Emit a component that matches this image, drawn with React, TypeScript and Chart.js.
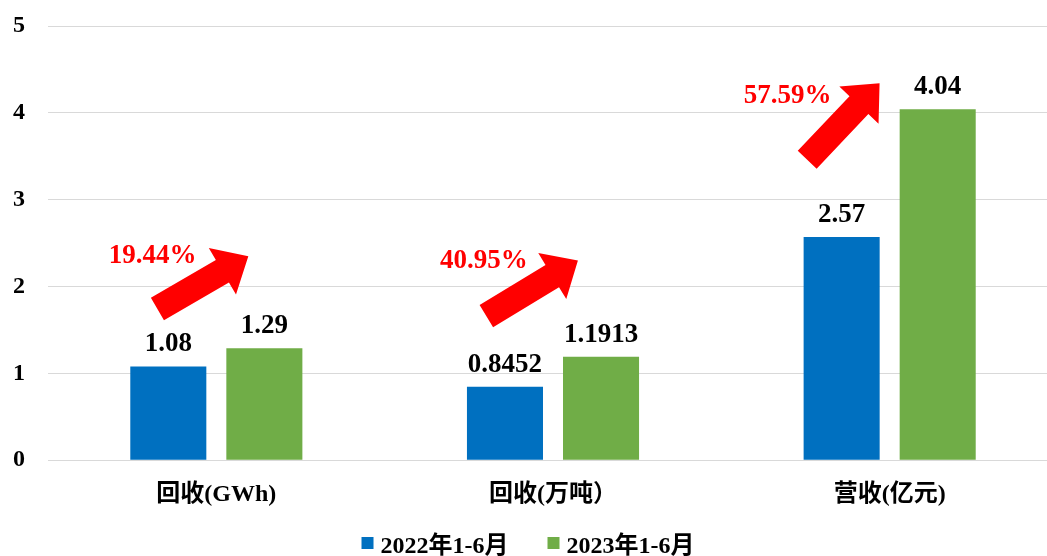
import React, { useEffect, useRef } from 'react';
import { Chart, registerables } from 'chart.js';

Chart.register(...registerables);

const categories = ['回收(GWh)', '回收(万吨）', '营收(亿元)'];
const seriesNames = ['2022年1-6月', '2023年1-6月'];
const series2022 = [1.08, 0.8452, 2.57];
const series2023 = [1.29, 1.1913, 4.04];
const seriesColors = ['#0070C0', '#70AD47'];
const yTicks = [0, 1, 2, 3, 4, 5];
const growthLabels = ['19.44%', '40.95%', '57.59%'];
// annotation anchors: [category offset (fraction of category width), value]
const arrowTail = [[-0.175, 1.74], [-0.198, 1.66], [-0.245, 3.46]];
const arrowTip = [[0.095, 2.35], [0.074, 2.3], [-0.03, 4.34]];
const growthLabelPos = [[-0.189, 2.267], [-0.205, 2.21], [-0.303, 4.108]];

const FONT = "'Liberation Serif', 'Times New Roman', 'Noto Sans CJK SC', serif";
const X_PAD = 20;
const Y_PAD = 23;

const fitX = (scale: any) => {
  scale.paddingLeft = 0;
  scale.paddingRight = 0;
  scale.paddingTop = 0;
  scale.paddingBottom = 0;
  scale.height -= X_PAD;
};
const fitY = (scale: any) => {
  scale.paddingLeft = 0;
  scale.paddingRight = 0;
  scale.paddingTop = 0;
  scale.paddingBottom = 0;
  scale.width -= Y_PAD;
};

const annotPlugin = {
  id: 'annot',
  afterDatasetsDraw(chart: any) {
    const { ctx, scales } = chart;
    const x = scales.x;
    const y = scales.y;
    const catW = x.getPixelForValue(1) - x.getPixelForValue(0);
    ctx.save();
    ctx.font = `bold 27px ${FONT}`;
    ctx.fillStyle = '#000';
    ctx.textAlign = 'center';
    ctx.textBaseline = 'alphabetic';
    chart.data.datasets.forEach((ds: any, di: number) => {
      const meta = chart.getDatasetMeta(di);
      meta.data.forEach((bar: any, i: number) => {
        ctx.fillText(String(ds.data[i]), bar.x, bar.y - 15);
      });
    });
    ctx.fillStyle = '#FF0000';
    for (let i = 0; i < growthLabels.length; i++) {
      const cx = x.getPixelForValue(i);
      const tx = cx + arrowTail[i][0] * catW;
      const ty = y.getPixelForValue(arrowTail[i][1]);
      const hx = cx + arrowTip[i][0] * catW;
      const hy = y.getPixelForValue(arrowTip[i][1]);
      const dx = hx - tx;
      const dy = hy - ty;
      const len = Math.hypot(dx, dy);
      const ux = dx / len;
      const uy = dy / len;
      const nx = -uy;
      const ny = ux;
      const sw = 13;
      const hw = 27;
      const hl = 30;
      const bx = hx - ux * hl;
      const by = hy - uy * hl;
      ctx.beginPath();
      ctx.moveTo(tx + nx * sw, ty + ny * sw);
      ctx.lineTo(bx + nx * sw, by + ny * sw);
      ctx.lineTo(bx + nx * hw, by + ny * hw);
      ctx.lineTo(hx, hy);
      ctx.lineTo(bx - nx * hw, by - ny * hw);
      ctx.lineTo(bx - nx * sw, by - ny * sw);
      ctx.lineTo(tx - nx * sw, ty - ny * sw);
      ctx.closePath();
      ctx.fill();
      ctx.font = `bold 27px ${FONT}`;
      ctx.textAlign = 'center';
      ctx.textBaseline = 'alphabetic';
      ctx.fillText(
        growthLabels[i],
        cx + growthLabelPos[i][0] * catW,
        y.getPixelForValue(growthLabelPos[i][1])
      );
    }
    ctx.restore();
  },
  afterDraw(chart: any) {
    const { ctx } = chart;
    ctx.save();
    ctx.font = `bold 24px ${FONT}`;
    ctx.textBaseline = 'alphabetic';
    ctx.textAlign = 'left';
    const box = 12;
    const gapBT = 7;
    const gapItems = 39;
    const items = chart.data.datasets.map((ds: any) => ({
      label: ds.label,
      color: ds.backgroundColor,
      w: ctx.measureText(ds.label).width,
    }));
    let total = 0;
    items.forEach((it: any, i: number) => {
      total += box + gapBT + it.w + (i < items.length - 1 ? gapItems : 0);
    });
    let cur = chart.width / 2 - 1 - total / 2;
    const boxTop = 537;
    const baseline = 553;
    items.forEach((it: any) => {
      ctx.fillStyle = it.color;
      ctx.fillRect(cur, boxTop, box, box);
      ctx.fillStyle = '#000';
      ctx.fillText(it.label, cur + box + gapBT, baseline);
      cur += box + gapBT + it.w + gapItems;
    });
    ctx.restore();
  },
};

export default function App() {
  const ref = useRef<HTMLCanvasElement>(null);
  useEffect(() => {
    if (!ref.current) return;
    const chart = new Chart(ref.current, {
      type: 'bar',
      data: {
        labels: categories,
        datasets: [
          { label: seriesNames[0], data: series2022, backgroundColor: seriesColors[0] },
          { label: seriesNames[1], data: series2023, backgroundColor: seriesColors[1] },
        ],
      },
      options: {
        responsive: false,
        animation: false,
        layout: { padding: { top: 26, left: 13, right: 0, bottom: 47 } },
        datasets: {
          bar: { categoryPercentage: 0.5706, barPercentage: 0.7917 },
        },
        plugins: {
          legend: { display: false },
          tooltip: { enabled: false },
        },
        scales: {
          x: {
            afterFit: fitX,
            grid: { display: false, drawTicks: false },
            border: { display: false },
            ticks: {
              color: '#000',
              padding: X_PAD,
              font: { family: FONT, size: 24, weight: 'bold' },
            },
          },
          y: {
            min: 0,
            max: 5,
            afterFit: fitY,
            afterBuildTicks: (axis: any) => {
              axis.ticks = yTicks.map((v) => ({ value: v }));
            },
            grid: { color: '#d9d9d9', lineWidth: 1, drawTicks: false },
            border: { display: false },
            ticks: {
              color: '#000',
              padding: Y_PAD,
              font: { family: FONT, size: 24, weight: 'bold' },
            },
          },
        },
      },
      plugins: [annotPlugin],
    });
    return () => chart.destroy();
  }, []);
  return (
    <div style={{ position: 'fixed', left: 0, top: 0, width: 1058, height: 556, background: '#fff' }}>
      <canvas ref={ref} width={1058} height={556} style={{ width: 1058, height: 556 }} />
    </div>
  );
}
